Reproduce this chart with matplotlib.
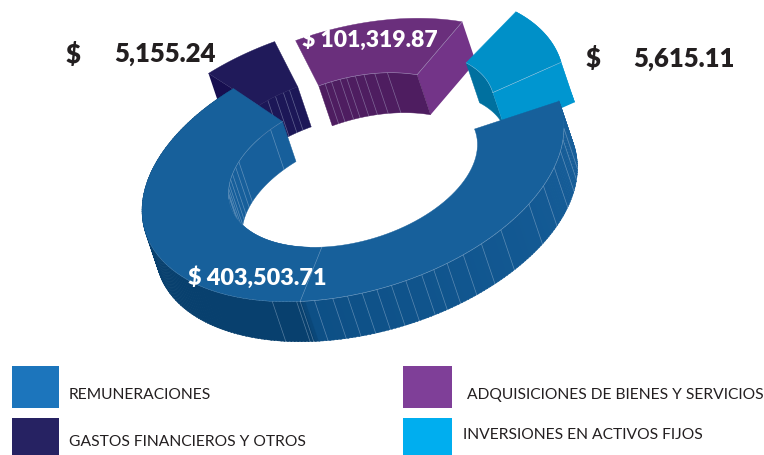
import numpy as np
import matplotlib.pyplot as plt
from matplotlib.colors import to_rgb
from matplotlib.patches import Polygon, Rectangle

# DATA
# ---------------------------------------------------------
categories = ['REMUNERACIONES', 'ADQUISICIONES DE BIENES Y SERVICIOS',
              'GASTOS FINANCIEROS Y OTROS', 'INVERSIONES EN ACTIVOS FIJOS']
values = [403503.71, 101319.87, 5155.24, 5615.11]
legend_colors = ['#1C75BC', '#7F3F98', '#262262', '#00AEEF']

# slice extents (degrees on the ring), it is not to scale
main_span = (65, -183)
purple_span = (84, 131)
navy_span = (64, 84)
cyan_span = (150, 180)

main_wall_lines = [-58, -65, -66, -70, -75, -79, -83, -87, -91, -95, -99.5, -103, -107,
                   -112, -118, -125, -137, -145, -153, -160, -165, -170]
main_inner_lines = [58, 33, 29, 24, 20, 16, 13, 10, 8]
purple_lines = [87, 90, 94, 97, 101, 105, 110, 116]
navy_lines = [69, 73, 77, 80]

# RING GEOMETRY (pixels of the 764x456 canvas)
# ---------------------------------------------------------
CENTER = np.array([353.0, 170.0])
AXES = np.array([[-208.1, -34.8], [61.7, -117.5]])
R_IN = 0.59
DROP = np.array([13.5, 40.0])
LINE = '#c9d8ea'


def ring(r, t, off=(0, 0)):
    a = np.radians(np.atleast_1d(t))
    return CENTER + np.asarray(off) + r * (AXES @ np.vstack([np.cos(a), np.sin(a)])).T


def arc(r, span, off=(0, 0)):
    return ring(r, np.linspace(span[0], span[1], 90), off)


def face(ax, a, b, color, z=1):
    ax.add_patch(Polygon(np.vstack([a, b[::-1]]), closed=True, fc=color, ec=color, lw=0.3, zorder=z))


def slats(ax, pts, z, alpha=0.4):
    for p in pts:
        ax.plot([p[0], p[0] + DROP[0]], [p[1], p[1] + DROP[1]], color=LINE, lw=0.5, alpha=alpha, zorder=z)


fig = plt.figure(figsize=(7.64, 4.56), dpi=100)
ax = fig.add_axes([0, 0, 1, 1])
ax.set_xlim(0, 764)
ax.set_ylim(456, 0)
ax.axis('off')

# navy slice
off = np.array([-22, -17])
ax.add_patch(Polygon(np.vstack([ring(1, navy_span[0], off), ring(R_IN, navy_span[0], off),
                                ring(R_IN, navy_span[0], DROP + off), ring(1, navy_span[0], DROP + off)]),
                     fc='#170F50', ec='none', zorder=1))
face(ax, arc(R_IN, navy_span, off), arc(R_IN, navy_span, DROP + off), '#1C1757', 1)
slats(ax, ring(R_IN, navy_lines, off), 1.5)
face(ax, arc(1, navy_span, off), arc(R_IN, navy_span, off), '#201A5A', 2)

# purple slice
off = np.array([-1, -18])
ax.add_patch(Polygon(np.vstack([ring(R_IN, purple_span[1], off), ring(1, purple_span[1], off),
                                ring(1, purple_span[1], DROP + off), ring(R_IN, purple_span[1], DROP + off)]),
                     fc='#733488', ec='none', zorder=1))
face(ax, arc(R_IN, purple_span, off), arc(R_IN, purple_span, DROP + off), '#4E1D60', 1)
slats(ax, ring(R_IN, purple_lines, off), 1.5)
face(ax, arc(1, purple_span, off), arc(R_IN, purple_span, off), '#6A2F7C', 2)
ax.plot(*np.vstack([ring(R_IN, purple_span[1], off), ring(1, purple_span[1], off)]).T, color=LINE, lw=0.4, alpha=0.5, zorder=3)
ax.plot(*arc(R_IN, purple_span, off).T, color=LINE, lw=0.4, alpha=0.5, zorder=3)

# cyan slice, its inner arc sits apart from the outer one
off = np.array([0, -45])
off_in = np.array([17, -40])
face(ax, arc(1, cyan_span, off), arc(1, cyan_span, DROP + off), '#0098D4', 4)
face(ax, arc(R_IN, cyan_span, off_in), arc(R_IN, cyan_span, DROP + off_in), '#00709F', 4)
ax.add_patch(Polygon(np.vstack([ring(R_IN, cyan_span[1], off_in), ring(1, cyan_span[1], off),
                                ring(1, cyan_span[1], DROP + off), ring(R_IN, cyan_span[1], DROP + off_in)]),
                     fc='#0096D0', ec='none', zorder=4))
face(ax, arc(1, cyan_span, off), arc(R_IN, cyan_span, off_in), '#0090C8', 5)
ax.plot(*np.vstack([ring(R_IN, cyan_span[1], off_in), ring(1, cyan_span[1], off)]).T, color=LINE, lw=0.4, alpha=0.7, zorder=6)
ax.plot(*arc(R_IN, cyan_span, off_in).T, color=LINE, lw=0.3, alpha=0.7, zorder=6)

# main slice: walls first, the top then covers what is hidden
ts = np.linspace(main_span[0], main_span[1], 250)
stop_t = [-183, -110, -67, -66, 65]
stop_c = np.array([to_rgb(c) for c in ['#175F9B', '#11568F', '#0D4F85', '#08406E', '#08406E']])
for t0, t1 in zip(ts[:-1], ts[1:]):
    c = [np.interp(t0, stop_t, stop_c[:, i]) for i in range(3)]
    seg = (t0, t1 - 0.3)
    face(ax, arc(1, seg), arc(1, seg, DROP), c, 7)
slats(ax, ring(1, main_wall_lines), 7.5)

in_span = (main_span[0], -60)
face(ax, arc(R_IN, in_span), arc(R_IN, in_span, DROP), '#175F9B', 7)
slats(ax, ring(R_IN, main_inner_lines), 7.5)

top = np.vstack([arc(1, main_span), arc(R_IN, main_span)[::-1]])
ax.add_patch(Polygon(top, closed=True, fc='#17609B', ec='#17609B', lw=0.3, zorder=8))
ax.plot(*arc(1, (-66, -170)).T, color=LINE, lw=0.4, alpha=0.5, zorder=9)
ax.plot(*arc(1, (-5, -66)).T, color=LINE, lw=0.3, alpha=0.3, zorder=9)
ax.plot(*arc(R_IN, (main_span[0], 5)).T, color=LINE, lw=0.4, alpha=0.4, zorder=9)
ax.plot(*np.vstack([ring(1, -66), ring(R_IN, -66)]).T, color=LINE, lw=0.4, alpha=0.5, zorder=9)

# VALUE LABELS
# ---------------------------------------------------------
bold = dict(family='Lato', fontweight='heavy', va='center', zorder=20)
ax.text(188, 278, f"$ {values[0]:,.2f}", color='white', fontsize=16.8, **bold)
ax.text(302, 40, f"$ {values[1]:,.2f}", color='white', fontsize=16.5, **bold)
ax.text(66, 54, "$", color='#231F20', fontsize=18.5, **bold)
ax.text(114, 54, f"{values[2]:,.2f}", color='#231F20', fontsize=18.5, **bold)
ax.text(586, 59, "$", color='#231F20', fontsize=18.5, **bold)
ax.text(633, 59, f"{values[3]:,.2f}", color='#231F20', fontsize=18.5, **bold)

# LEGEND
# ---------------------------------------------------------
boxes = [(12, 367, 47, 42), (403, 367, 49, 42), (12, 419, 47, 37), (403, 419, 49, 37)]
text_pos = [(69, 395), (467, 395), (69, 442), (463, 435)]
for name, col, b, p in zip(categories, legend_colors, boxes, text_pos):
    ax.add_patch(Rectangle(b[:2], b[2], b[3], fc=col, ec='none'))
    ax.text(p[0], p[1], name, family='Lato', fontsize=11.25, va='center', color='#231F20')

fig.savefig('out.png', dpi=100)
